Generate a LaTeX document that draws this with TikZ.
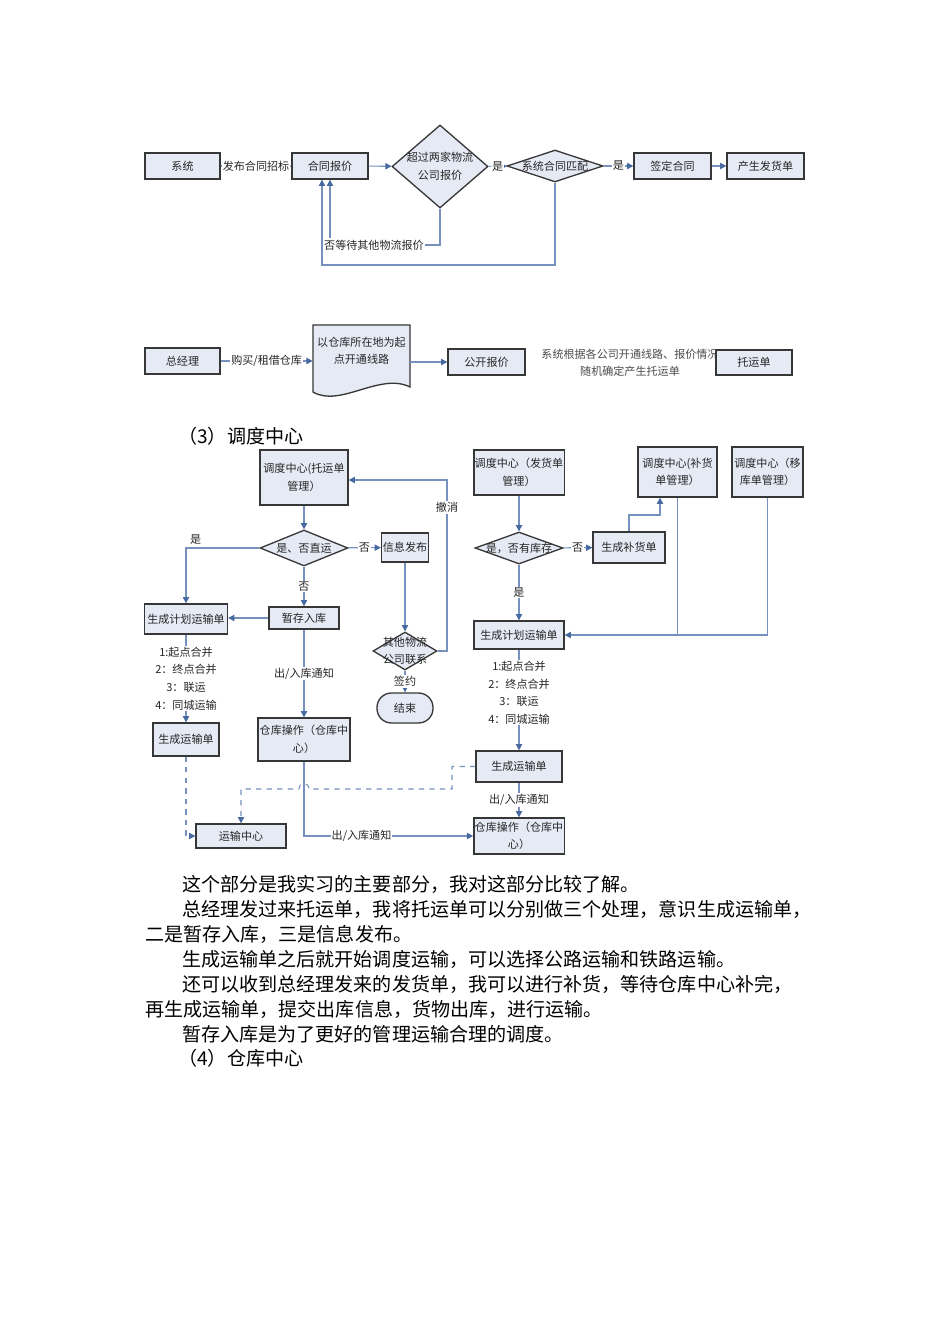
\documentclass[tikz,border=0pt]{standalone}
\usepackage{fontspec}
\setmainfont{Noto Sans CJK SC}
\usetikzlibrary{shapes.geometric,arrows.meta}
\definecolor{boxfill}{RGB}{230,234,245}
\definecolor{boxline}{RGB}{55,55,55}
\definecolor{linkblue}{RGB}{118,145,190}
\definecolor{tipblue}{RGB}{70,105,160}

\begin{document}
\begin{tikzpicture}[x=0.02cm,y=-0.02cm,
    every node/.style={font=\fontsize{6.3}{10}\selectfont,text=black!85},
    box/.style={draw=boxline,fill=boxfill,line width=0.75pt,inner sep=0.5pt,align=center},
    decision/.style={diamond,draw=boxline,fill=boxfill,line width=0.75pt,inner sep=0pt},
    flow/.style={draw=linkblue,line width=0.6pt,-{Triangle[length=3.6pt,width=3.6pt,color=tipblue]}},
    link/.style={draw=linkblue,line width=0.6pt},
    tag/.style={fill=white,inner sep=0.6pt,align=center},
    body/.style={font=\fontsize{10.85}{14}\selectfont,text=black,anchor=west,inner sep=0pt}]
    \fill[white] (0,0) rectangle (950,1344);
    \useasboundingbox (0,0) rectangle (950,1344);

    \node[box,minimum width=1.5cm,minimum height=0.52cm] (sys) at (182.5,166) {系统};
    \node[box,minimum width=1.52cm,minimum height=0.52cm] (quote) at (330,166) {合同报价};
    \node[decision,minimum width=1.92cm,minimum height=1.66cm] (over) at (440,166.5) {};
    \node[align=center] (overtxt) at (over) {超过两家物流\\公司报价};
    \node[decision,minimum width=1.92cm,minimum height=0.64cm] (match) at (555,166) {};
    \node (matchtxt) at (match) {系统合同匹配};
    \node[box,minimum width=1.54cm,minimum height=0.52cm] (sign) at (672.5,166) {签定合同};
    \node[box,minimum width=1.54cm,minimum height=0.52cm] (ship) at (765.5,166) {产生发货单};
    \draw[flow] (sys) -- node[tag] {发布合同招标} (quote);
    \draw[flow] (quote) -- (over);
    \draw[flow] (over) -- node[tag] {是} (match);
    \draw[flow] (match) -- node[tag] {是} (sign);
    \draw[flow] (sign) -- (ship);
    \node[tag] (wait) at (374,245) {否等待其他物流报价};
    \draw[link] (over.south) |- (wait.east);
    \draw[flow] (wait.north -| quote.south) -- (quote.south);
    \coordinate (back) at (322,265);
    \draw[flow] (match.south) |- (back) -- (back |- quote.south);

    \node[box,minimum width=1.5cm,minimum height=0.52cm] (gm) at (182.5,361) {总经理};
    \draw[boxline,fill=boxfill,line width=0.75pt] (313,325) -- (410,325) -- (410,387)
        .. controls (380,372) and (340,408) .. (313,392) -- cycle;
    \node[align=center,minimum width=1.94cm,inner sep=0pt] (route) at (361.5,351) {以仓库所在地为起\\点开通线路};
    \node[box,minimum width=1.54cm,minimum height=0.52cm] (open) at (486.5,362) {公开报价};
    \draw[flow] (gm) -- node[tag] {购买/租借仓库} (gm -| route.west);
    \draw[flow] (open -| route.east) -- (open);
    \node[align=center,text=black!70] (rule) at (630,363) {系统根据各公司开通线路、报价情况\\随机确定产生托运单};
    \node[box,minimum width=1.52cm,minimum height=0.5cm] (ticket) at (754,362.5) {托运单};

    \node[body] (sec3) at (178,436) {（3）调度中心};

    \node[box,minimum width=1.76cm,minimum height=1.1cm] (mgrT) at (304,477.5) {调度中心(托运单\\管理）};
    \node[decision,minimum width=1.76cm,minimum height=0.72cm] (direct) at (304,548) {};
    \node (directtxt) at (direct) {是、否直运};
    \node[box,minimum width=0.94cm,minimum height=0.58cm] (info) at (405,547.5) {信息发布};
    \node[box,minimum width=1.4cm,minimum height=0.44cm] (temp) at (304,618) {暂存入库};
    \node[box,minimum width=1.66cm,minimum height=0.6cm] (planL) at (186,619) {生成计划运输单};
    \node[box,minimum width=1.32cm,minimum height=0.66cm] (transL) at (186,739.5) {生成运输单};
    \node[box,minimum width=1.84cm,minimum height=0.86cm] (whL) at (304,739.5) {仓库操作（仓库中\\心）};
    \node[decision,minimum width=1.28cm,minimum height=0.76cm] (other) at (405,651) {};
    \node[align=center] (othertxt) at (other) {其他物流\\公司联系};
    \node[box,rounded corners=0.29cm,minimum width=1.12cm,minimum height=0.6cm] (end) at (405,708) {结束};
    \node[box,minimum width=1.8cm,minimum height=0.48cm] (tc) at (241,836) {运输中心};

    \draw[flow] (mgrT) -- (direct);
    \draw[flow] (direct.west) -| node[pos=0.5,anchor=south west,inner sep=2pt] {是} (planL.north);
    \draw[flow] (direct) -- node[tag] {否} (info);
    \draw[flow] (direct) -- node[tag] {否} (temp);
    \draw[flow] (temp.west) -- (temp.west -| planL.east);
    \draw[flow] (planL) -- node[tag] {1:起点合并\\2：终点合并\\3：联运\\4：同城运输} (transL);
    \draw[flow] (temp) -- node[tag] {出/入库通知} (whL);
    \draw[flow] (info) -- (other);
    \coordinate (undo) at (447,480);
    \draw[flow] (other.east) -| node[tag,pos=0.92] {撤消} (undo) -- (undo -| mgrT.east);
    \draw[flow] (other) -- node[tag] {签约} (end);
    \draw[flow,dashed] (transL.south) |- (tc.west);

    \node[box,minimum width=1.76cm,minimum height=0.9cm] (mgrS) at (519,472.5) {调度中心（发货单\\管理）};
    \node[decision,minimum width=1.76cm,minimum height=0.64cm] (stock) at (519,548) {};
    \node (stocktxt) at (stock) {是，否有库存};
    \node[box,minimum width=1.44cm,minimum height=0.62cm] (refill) at (629,547.5) {生成补货单};
    \node[box,minimum width=1.58cm,minimum height=1.0cm] (mgrR) at (677.5,472) {调度中心(补货\\单管理）};
    \node[box,minimum width=1.42cm,minimum height=1.0cm] (mgrM) at (767.5,472) {调度中心（移\\库单管理）};
    \node[box,minimum width=1.8cm,minimum height=0.56cm] (planR) at (519,635) {生成计划运输单};
    \node[box,minimum width=1.72cm,minimum height=0.62cm] (transR) at (519,766.5) {生成运输单};
    \node[box,minimum width=1.78cm,minimum height=0.72cm] (whR) at (519,836) {仓库操作（仓库中\\心）};

    \draw[flow] (mgrS) -- (stock);
    \draw[flow] (stock) -- node[tag] {否} (refill);
    \draw[flow] (stock) -- node[tag] {是} (planR);
    \coordinate (up) at (660,515);
    \draw[flow] (refill.north) |- (up) -- (up |- mgrR.south);
    \draw[link] (mgrR.south) -- (mgrR.south |- planR.east);
    \draw[flow] (mgrM.south) |- (planR.east);
    \draw[flow] (planR) -- node[tag,pos=0.43] {1:起点合并\\2：终点合并\\3：联运\\4：同城运输} (transR);
    \draw[flow] (transR) -- node[tag] {出/入库通知} (whR);

    \draw[flow] (whL.south) |- node[tag,pos=0.67] {出/入库通知} (whR.west);
    \coordinate (jog) at (452,789);
    \draw[flow,dashed] (transR.west) -| (jog) -- (309,789) .. controls (309,782) and (299,782) .. (299,789)
        -- (tc.north |- jog) -- (tc.north);

    \foreach \y/\x/\t in {884/182/这个部分是我实习的主要部分，我对这部分比较了解。,
        909/182/总经理发过来托运单，我将托运单可以分别做三个处理，意识生成运输单，,
        934/145/二是暂存入库，三是信息发布。,
        959/182/生成运输单之后就开始调度运输，可以选择公路运输和铁路运输。,
        984/182/还可以收到总经理发来的发货单，我可以进行补货，等待仓库中心补完，,
        1009/145/再生成运输单，提交出库信息，货物出库，进行运输。,
        1034/182/暂存入库是为了更好的管理运输合理的调度。,
        1058/178/（4）仓库中心}
      \node[body] (line\y) at (\x,\y) {\t};
\end{tikzpicture}
\end{document}
